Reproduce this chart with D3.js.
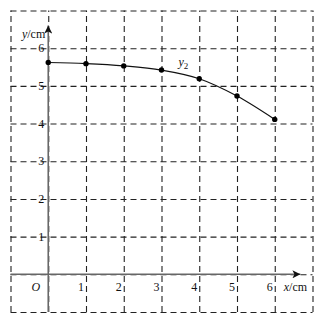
<!DOCTYPE html>
<html>
<head>
<meta charset="utf-8">
<script src="https://cdn.jsdelivr.net/npm/d3@7"></script>
<style>
  body { margin: 0; background: #fff; }
  svg { display: block; }
  text { font-family: "Liberation Serif", "DejaVu Serif", serif; fill: #111; }
</style>
</head>
<body>
<div class="output"><svg width="323" height="323"></svg></div>
<script>
// data
var xVals = [0, 1, 2, 3, 4, 5, 6];
var yVals = [5.62, 5.59, 5.53, 5.42, 5.19, 4.73, 4.11];
var gridVals = [-1, 0, 1, 2, 3, 4, 5, 6, 7];
var xTicks = [1, 2, 3, 4, 5, 6];
var yTicks = [1, 2, 3, 4, 5, 6];

var svg = d3.select("div.output svg");

//Scales, one unit is about 37.8px
var x = d3.scaleLinear().domain([-1, 7]).range([10.5, 312.5]);
var y = d3.scaleLinear().domain([-1, 7]).range([312, 10.5]);

//----------------------GRID---------------------------
var grid = svg.append("g").attr("class", "grid");

grid.append("g")
  .attr("transform", "translate(0," + y(-1) + ")")
  .call(d3.axisBottom(x).tickValues(gridVals).tickSize(-(y(-1) - y(7))).tickFormat(""));
grid.append("g")
  .attr("transform", "translate(" + x(-1) + ",0)")
  .call(d3.axisLeft(y).tickValues(gridVals).tickSize(-(x(7) - x(-1))).tickFormat(""));

grid.selectAll(".domain").remove();
grid.selectAll("line")
  .attr("stroke", "#222")
  .attr("stroke-width", 1.1)
  .attr("stroke-dasharray", "6,4");

//----------------------AXES---------------------------
var defs = svg.append("defs");
defs.append("marker")
  .attr("id", "arrow")
  .attr("viewBox", "0 0 10 10")
  .attr("refX", 10).attr("refY", 5)
  .attr("markerWidth", 13).attr("markerHeight", 8)
  .attr("markerUnits", "userSpaceOnUse")
  .attr("orient", "auto")
  .append("path")
  .attr("d", "M0,0 L10,5 L0,10 L2.5,5 Z")
  .attr("fill", "#111");

// x axis
svg.append("line")
  .attr("x1", x(-1)).attr("x2", x(6.68))
  .attr("y1", y(0)).attr("y2", y(0))
  .attr("stroke", "#666").attr("stroke-width", 1.6)
  .attr("marker-end", "url(#arrow)");
// y axis
svg.append("line")
  .attr("x1", x(0)).attr("x2", x(0))
  .attr("y1", y(-1)).attr("y2", y(6.6))
  .attr("stroke", "#666").attr("stroke-width", 1.6)
  .attr("marker-end", "url(#arrow)");

// tick labels
svg.selectAll("text.xt")
  .data(xTicks)
  .enter().append("text")
  .attr("class", "xt")
  .attr("x", function(d){ return x(d) - 2; })
  .attr("y", y(0) + 17)
  .attr("text-anchor", "end")
  .attr("font-size", "12px")
  .text(function(d){ return d; });

svg.selectAll("text.yt")
  .data(yTicks)
  .enter().append("text")
  .attr("class", "yt")
  .attr("x", x(0) - 4)
  .attr("y", function(d){ return y(d) + 4; })
  .attr("text-anchor", "end")
  .attr("font-size", "12px")
  .text(function(d){ return d; });

svg.append("text")
  .attr("x", x(0) - 8).attr("y", y(0) + 17)
  .attr("text-anchor", "end")
  .attr("font-size", "12px")
  .attr("font-style", "italic")
  .text("O");

// axis titles
var xl = svg.append("text")
  .attr("x", x(6) + 9).attr("y", y(0) + 17)
  .attr("font-size", "12px");
xl.append("tspan").attr("font-style", "italic").text("x");
xl.append("tspan").text("/cm");

var yl = svg.append("text")
  .attr("x", x(0) - 3).attr("y", y(6) - 10)
  .attr("text-anchor", "end")
  .attr("font-size", "12px");
yl.append("tspan").attr("font-style", "italic").text("y");
yl.append("tspan").text("/cm");

//----------------------CURVE---------------------------
var pts = xVals.map(function(d, i){ return [d, yVals[i]]; });

var line = d3.line()
  .x(function(d){ return x(d[0]); })
  .y(function(d){ return y(d[1]); })
  .curve(d3.curveMonotoneX);

svg.append("path")
  .datum(pts)
  .attr("d", line)
  .attr("fill", "none")
  .attr("stroke", "#111")
  .attr("stroke-width", 1.2);

svg.selectAll("circle")
  .data(pts)
  .enter().append("circle")
  .attr("cx", function(d){ return x(d[0]); })
  .attr("cy", function(d){ return y(d[1]); })
  .attr("r", 2.7)
  .attr("fill", "#000");

// series label
var lab = svg.append("text")
  .attr("x", x(3.45)).attr("y", y(5.6) + 3)
  .attr("font-size", "12px")
  .attr("font-style", "italic");
lab.append("tspan").text("y");
lab.append("tspan").attr("font-size", "9px").attr("font-style", "normal").attr("dy", 3).text("2");
</script>
</body>
</html>
